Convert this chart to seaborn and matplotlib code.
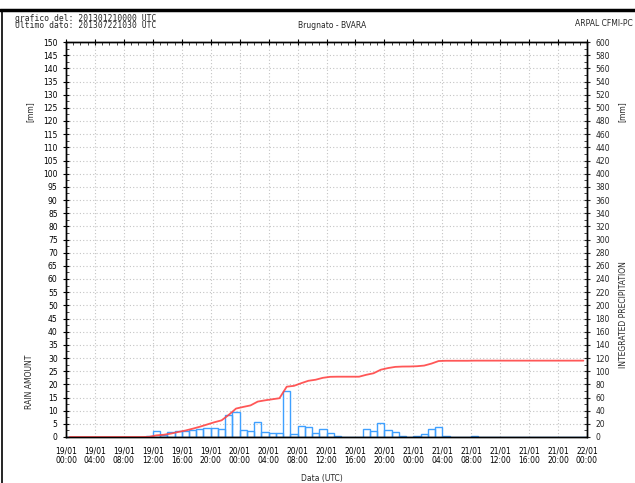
import numpy as np
import pandas as pd
import matplotlib
matplotlib.use("Agg")
import matplotlib.pyplot as plt
from matplotlib.ticker import MultipleLocator
from matplotlib.lines import Line2D
import seaborn as sns

# hourly rain [mm], hours from 19/01 00:00 UTC
hours = np.arange(72)
rain = [0, 0, 0, 0, 0, 0, 0, 0, 0, 0, 0, 0.3,
        2.2, 0.9, 1.8, 2.4, 2.2, 2.8, 3.0, 3.4, 3.4, 2.9, 8.4, 9.5,
        2.5, 2.3, 5.8, 1.9, 1.6, 1.6, 17.5, 1.3, 4.0, 3.7, 1.6, 2.9,
        1.5, 0.2, 0, 0, 0, 2.9, 2.3, 5.4, 2.5, 1.8, 0.5, 0.1,
        0.4, 1.0, 3.0, 3.9, 0.4, 0, 0, 0, 0.2, 0, 0, 0,
        0, 0, 0, 0, 0, 0, 0, 0, 0, 0, 0, 0]
# integrated precipitation [mm]
cum_rain = [0, 0, 0, 0, 0, 0, 0, 0, 0, 0, 0, 0.3,
            2.5, 3.4, 5.2, 7.6, 9.8, 12.6, 15.6, 19.0, 22.4, 25.3, 33.7, 43.2,
            45.7, 48.0, 53.8, 55.7, 57.3, 58.9, 76.4, 77.7, 81.7, 85.4, 87.0, 89.9,
            91.4, 91.6, 91.6, 91.6, 91.6, 94.5, 96.8, 102.2, 104.7, 106.5, 107.0, 107.1,
            107.5, 108.5, 111.5, 115.4, 115.8, 115.8, 115.8, 115.8, 116.0, 116.0, 116.0, 116.0,
            116.0, 116.0, 116.0, 116.0, 116.0, 116.0, 116.0, 116.0, 116.0, 116.0, 116.0, 116.0]
tick_labels = ["19/01\n00:00", "19/01\n04:00", "19/01\n08:00", "19/01\n12:00", "19/01\n16:00",
               "19/01\n20:00", "20/01\n00:00", "20/01\n04:00", "20/01\n08:00", "20/01\n12:00",
               "20/01\n16:00", "20/01\n20:00", "21/01\n00:00", "21/01\n04:00", "21/01\n08:00",
               "21/01\n12:00", "21/01\n16:00", "21/01\n20:00", "22/01\n00:00"]

df = pd.DataFrame({"hour": hours + 0.5, "rain": rain, "cum": cum_rain})

sns.set_style("white")
plt.rcParams['font.family'] = ['DejaVu Sans']
fs = 5.5
grid_kw = dict(color="#c4c4c4", linestyle=(0, (1, 2)), linewidth=0.8)

fig = plt.figure(figsize=(6.35, 4.83), dpi=100)
ax = fig.add_axes([66/635, 1 - 437/483, 521/635, 395/483])

sns.histplot(data=df, x="hour", weights="rain", binwidth=1, binrange=(0, 72), fill=False,
             element="bars", color="#3fa0ff", linewidth=1.0, ax=ax)
ax.set_xlim(0, 72)
ax.set_ylim(0, 150)
ax.set_ylabel("")
ax.set_xlabel("")
ax.yaxis.set_major_locator(MultipleLocator(5))
ax.yaxis.set_minor_locator(MultipleLocator(2.5))
ax.xaxis.set_minor_locator(MultipleLocator(1))
ax.set_xticks(np.arange(0, 73, 4))
ax.set_xticklabels(tick_labels)
ax.grid(True, which="major", **grid_kw)
ax.set_axisbelow(True)
ax.tick_params(axis="both", which="major", direction="inout", length=5, width=0.8,
               labelsize=fs, colors="black", top=True)
ax.tick_params(axis="both", which="minor", direction="in", length=2.5, width=0.6, top=True)
ax.tick_params(axis="x", pad=4)
for s in ax.spines.values():
    s.set_color("black")
    s.set_linewidth(1.0)

ax2 = ax.twinx()
sns.lineplot(data=df, x="hour", y="cum", color="#ff4545", linewidth=1.3, alpha=0.9, ax=ax2)
ax2.set_ylim(0, 600)
ax2.set_xlim(0, 72)
ax2.set_ylabel("")
ax2.yaxis.set_major_locator(MultipleLocator(20))
ax2.yaxis.set_minor_locator(MultipleLocator(10))
ax2.tick_params(axis="y", which="major", direction="inout", length=5, width=0.8, labelsize=fs)
ax2.tick_params(axis="y", which="minor", direction="in", length=2.5, width=0.6)
for s in ax2.spines.values():
    s.set_color("black")
    s.set_linewidth(1.0)

# header texts
fig.text(15/635, 1 - 22/483, "grafico del: 201301210000 UTC\nUltimo dato: 201307221030 UTC",
         fontsize=5.8, family="DejaVu Sans Mono", va="center", linespacing=0.85)
fig.text(332/635, 1 - 26/483, "Brugnato - BVARA", fontsize=fs, ha="center", va="center")
fig.text(575/635, 1 - 24/483, "ARPAL CFMI-PC", fontsize=fs, va="center")

# axis labels
fig.text(30/635, 1 - 112/483, "[mm]", fontsize=fs, rotation=90, ha="center", va="center")
fig.text(30/635, 1 - 382/483, "RAIN AMOUNT", fontsize=fs, rotation=90, ha="center", va="center")
fig.text(622/635, 1 - 112/483, "[mm]", fontsize=fs, rotation=90, ha="center", va="center")
fig.text(623/635, 1 - 315/483, "INTEGRATED PRECIPITATION", fontsize=fs, rotation=90,
         ha="center", va="center")
fig.text(322/635, 1 - 478/483, "Data (UTC)", fontsize=fs, ha="center", va="center")

# frame
fig.add_artist(Line2D([0, 1], [1 - 10/483, 1 - 10/483], color="black", linewidth=2.5,
                      transform=fig.transFigure))
fig.add_artist(Line2D([2/635, 2/635], [0, 1 - 10/483], color="black", linewidth=1.2,
                      transform=fig.transFigure))

fig.savefig("out.png", dpi=100)
